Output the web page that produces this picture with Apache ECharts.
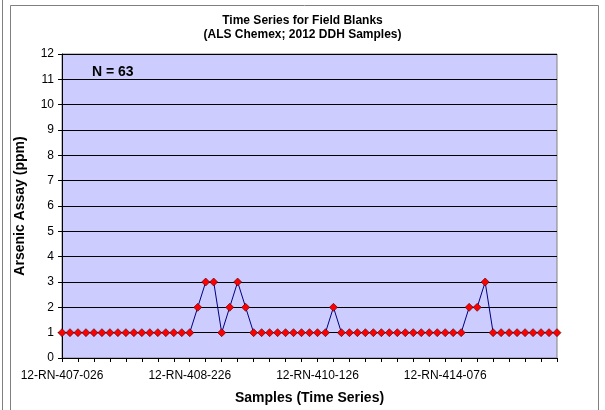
<!DOCTYPE html>
<html><head><meta charset="utf-8">
<script src="https://cdn.jsdelivr.net/npm/echarts@6/dist/echarts.min.js"></script>
<style>html,body{margin:0;padding:0;background:#fff}#c{width:605px;height:410px}</style>
</head><body><div id="c"></div>
<script>
// Sample sequence (1..63) and As values in ppm
const sampleIndex = [1,2,3,4,5,6,7,8,9,10,11,12,13,14,15,16,17,18,19,20,21,22,23,24,25,26,27,28,29,30,31,32,33,34,35,36,37,38,39,40,41,42,43,44,45,46,47,48,49,50,51,52,53,54,55,56,57,58,59,60,61,62,63];
const arsenic = [1,1,1,1,1,1,1,1,1,1,1,1,1,1,1,1,1,2,3,3,1,2,3,2,1,1,1,1,1,1,1,1,1,1,2,1,1,1,1,1,1,1,1,1,1,1,1,1,1,1,1,2,2,3,1,1,1,1,1,1,1,1,1];
const labelIndex = [0,16,32,48];
const labelText = ['12-RN-407-026','12-RN-408-226','12-RN-410-126','12-RN-414-076'];
const yTicks = [0,1,2,3,4,5,6,7,8,9,10,11,12];

const chart = echarts.init(document.getElementById('c'));
const F = 'Liberation Sans, Arial, sans-serif';
chart.setOption({
  animation:false,
  backgroundColor:'#fff',
  title:{text:'Time Series for Field Blanks\n(ALS Chemex; 2012 DDH Samples)',left:'center',top:9,
    textStyle:{fontFamily:F,fontSize:12,fontWeight:'bold',color:'#000',lineHeight:14}},
  grid:{left:62,right:48,top:54,bottom:52,show:true,backgroundColor:'#CCCCFF',borderColor:'#808080',borderWidth:1},
  xAxis:{type:'category',data:sampleIndex,boundaryGap:false,
    name:'Samples (Time Series)',nameLocation:'middle',nameGap:33,
    nameTextStyle:{fontFamily:F,fontSize:14,fontWeight:'bold',color:'#000'},
    axisLine:{lineStyle:{color:'#000',width:1}},
    axisTick:{show:true,interval:1,length:4,inside:false,lineStyle:{color:'#000'}},
    axisLabel:{interval:(i)=>labelIndex.indexOf(i)>=0,formatter:(v,i)=>{const k=labelIndex.indexOf(i);return k>=0?labelText[k]:'';},
      fontFamily:F,fontSize:12,color:'#000',margin:12},
    splitLine:{show:false}},
  yAxis:{type:'value',min:yTicks[0],max:yTicks[yTicks.length-1],interval:1,
    name:'Arsenic Assay (ppm)',nameLocation:'middle',nameGap:35,nameRotate:90,
    nameTextStyle:{fontFamily:F,fontSize:14,fontWeight:'bold',color:'#000'},
    axisLine:{show:true,lineStyle:{color:'#000',width:1}},
    axisTick:{show:true,length:4,lineStyle:{color:'#000'}},
    axisLabel:{fontFamily:F,fontSize:12,color:'#000',margin:8},
    splitLine:{show:true,lineStyle:{color:'#000',width:1}}},
  series:[{type:'line',data:arsenic,symbol:'diamond',symbolSize:8,showAllSymbol:true,
    lineStyle:{color:'#000080',width:1},
    itemStyle:{color:'#FF0000',borderColor:'#400000',borderWidth:0.6},z:5}],
  graphic:[
    {type:'rect',shape:{x:10.5,y:5.5,width:588,height:410},style:{fill:'none',stroke:'#808080',lineWidth:1},silent:true},
    {type:'line',shape:{x1:2.5,y1:0,x2:2.5,y2:410},style:{stroke:'#808080',lineWidth:1},silent:true},
    {type:'text',left:92,top:65,style:{text:'N = 63',font:'bold 14px '+F,fill:'#000'},z:10}
  ]
});
</script></body></html>
